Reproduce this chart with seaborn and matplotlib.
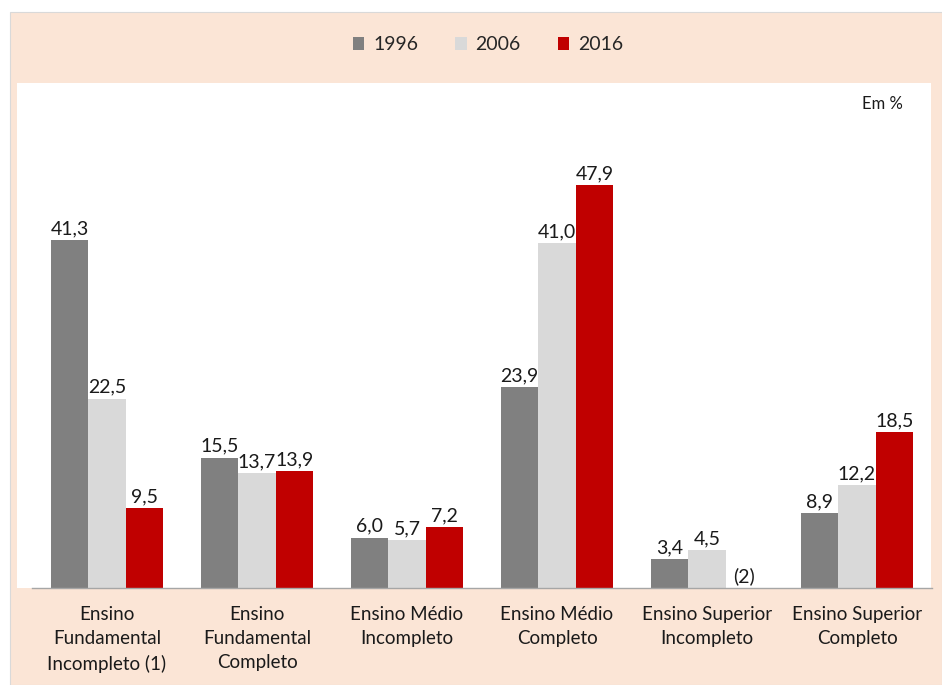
import numpy as np
import pandas as pd
import matplotlib
matplotlib.use("Agg")
import matplotlib.pyplot as plt
from matplotlib.patches import Rectangle
import seaborn as sns

categories = ["Ensino\nFundamental\nIncompleto (1)", "Ensino\nFundamental\nCompleto",
              "Ensino Médio\nIncompleto", "Ensino Médio\nCompleto",
              "Ensino Superior\nIncompleto", "Ensino Superior\nCompleto"]
years = ["1996", "2006", "2016"]
v1996 = [41.3, 15.5, 6.0, 23.9, 3.4, 8.9]
v2006 = [22.5, 13.7, 5.7, 41.0, 4.5, 12.2]
v2016 = [9.5, 13.9, 7.2, 47.9, None, 18.5]
colors = ["#808080", "#D9D9D9", "#C00000"]
peach = "#FBE5D6"

rows = []
for y, vals in zip(years, [v1996, v2006, v2016]):
    for c, v in zip(categories, vals):
        rows.append({"cat": c, "year": y, "val": v})
df = pd.DataFrame(rows)
df["plot_val"] = df["val"].fillna(0.0)

sns.set_theme(style="white")
plt.rcParams["font.family"] = ["Lato", "DejaVu Sans"]

fig = plt.figure(figsize=(9.42, 6.85), dpi=100)
fig.patch.set_facecolor("white")
W, H = 942, 685
# peach panel
fig.patches.append(Rectangle((10 / W, 0), 1 - 10 / W, (H - 12) / H, transform=fig.transFigure,
                             facecolor=peach, edgecolor="#D9D9D9", linewidth=0.8, zorder=0))
# white plot area
fig.patches.append(Rectangle((17 / W, (H - 588) / H), (931 - 17) / W, (588 - 83) / H,
                             transform=fig.transFigure, facecolor="white", edgecolor="none", zorder=0.5))

ax = fig.add_axes([32 / W, (H - 588) / H, (932 - 32) / W, (588 - 83) / H])
ax.set_zorder(2)
ax.patch.set_alpha(0)

sns.barplot(data=df, x="cat", y="plot_val", hue="year", palette=colors, width=0.75,
            ax=ax, errorbar=None, saturation=1, legend=False, linewidth=0, edgecolor="none")

ax.set_ylim(0, 60)
ax.set_xlim(-0.5, 5.5)
ax.set_xlabel("")
ax.set_ylabel("")
ax.set_yticks([])
for s in ["top", "right", "left"]:
    ax.spines[s].set_visible(False)
ax.spines["bottom"].set_color("#A6A6A6")
ax.spines["bottom"].set_linewidth(1.0)

ax.set_xticks(range(len(categories)))
ax.set_xticklabels(categories, fontsize=13.5, color="#1a1a1a", linespacing=1.5)
ax.tick_params(axis="x", which="major", length=0, pad=13)
ax.set_xticks(np.arange(-0.5, len(categories), 1.0), minor=True)
ax.tick_params(axis="x", which="minor", length=5, color="#A6A6A6", width=1.0, direction="out")

for cont, vals in zip(ax.containers, [v1996, v2006, v2016]):
    labels = [("(2)" if v is None else f"{v:.1f}".replace(".", ",")) for v in vals]
    ax.bar_label(cont, labels=labels, padding=2, fontsize=14, color="#1a1a1a")

handles = [Rectangle((0, 0), 1, 1, facecolor=c, edgecolor="none") for c in colors]
fig.legend(handles, years, loc="center", bbox_to_anchor=(488 / W, (H - 45) / H), ncol=3,
           frameon=False, fontsize=14, handlelength=0.6, handleheight=0.6, columnspacing=1.9,
           handletextpad=0.45)

fig.text(903 / W, (H - 104) / H, "Em %", ha="right", va="center", fontsize=12, color="#1a1a1a")

fig.savefig("out.png", dpi=100, facecolor=fig.get_facecolor())
